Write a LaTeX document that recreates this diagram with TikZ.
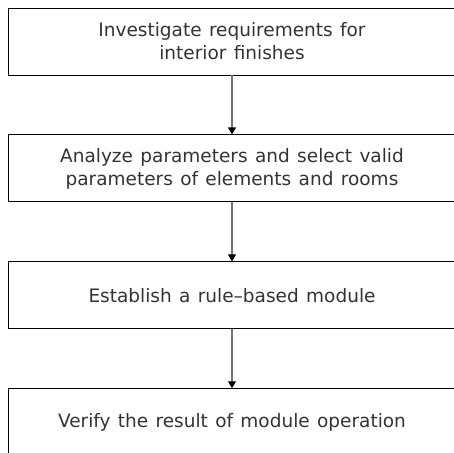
\documentclass[tikz,border=0pt]{standalone}
\usepackage{fontspec}
\setmainfont[WordSpace=1.25]{DejaVu Sans}
\usetikzlibrary{arrows.meta,positioning}

\begin{document}
\begin{tikzpicture}[
      x=1pt, y=1pt, font=\fontsize{18.5}{23}\selectfont,
      stepbox/.style={draw, line width=0.9pt, align=center, minimum width=448pt,
                      minimum height=67pt, inner sep=0pt, text=black!80},
      flow/.style={line width=1.2pt, draw=black!55,
                   -{Triangle[length=7pt,width=8pt,black]}},
    ]
    \clip (0,0) rectangle (454,-452);

    % process steps
    \node[stepbox] (req) at (232,-41.5)
      {Investigate requirements for\\interior finishes};
    \node[stepbox, below=59pt of req] (param)
      {Analyze parameters and select valid\\parameters of elements and rooms};
    \node[stepbox, below=59pt of param] (rule)
      {Establish a rule--based module};
    \node[stepbox, below=59pt of rule] (verify)
      {Verify the result of module operation};

    % arrows
    \draw[flow] (req) -- (param);
    \draw[flow] (param) -- (rule);
    \draw[flow] (rule) -- (verify);
  \end{tikzpicture}
\end{document}
